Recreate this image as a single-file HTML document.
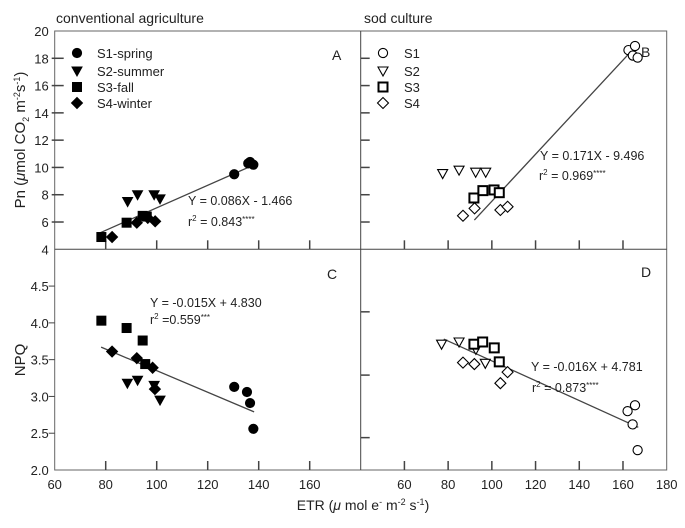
<!DOCTYPE html>
<html><head><meta charset="utf-8"><style>
body{margin:0;background:#fff}
svg{display:block;font-family:"Liberation Sans",sans-serif}
</style></head><body>
<svg id="c" width="685" height="528" xmlns="http://www.w3.org/2000/svg"></svg>
<script>
// ----- data -----
const xTicksLeft=[60,80,100,120,140,160];
const xTicksRight=[40,60,80,100,120,140,160,180];
const yTicksTop=[4,6,8,10,12,14,16,18,20];
const yTicksBottom=[2.0,2.5,3.0,3.5,4.0,4.5];
const seasons=['S1-spring','S2-summer','S3-fall','S4-winter'];
const sodSeasons=['S1','S2','S3','S4'];
// Panel A (conventional, Pn)
const aS1x=[130.4,135.9,136.6,137.9], aS1y=[9.5,10.3,10.4,10.2];
const aS2x=[88.6,92.5,99.0,101.3], aS2y=[7.5,8.0,8.0,7.7];
const aS3x=[78.3,88.2,94.5,96.1], aS3y=[4.9,5.95,6.45,6.4];
const aS4x=[82.5,92.2,96.5,99.4], aS4y=[4.9,5.95,6.3,6.05];
// Panel B (sod, Pn)
const bS1x=[162.5,165.5,164.5,166.7], bS1y=[18.6,18.9,18.2,18.05];
const bS2x=[77.5,85,92.6,97.2], bS2y=[9.55,9.8,9.65,9.65];
const bS3x=[91.8,95.9,101,103.4], bS3y=[7.76,8.3,8.35,8.15];
const bS4x=[86.8,92.1,103.9,107.2], bS4y=[6.46,7.0,6.88,7.12];
// Panel C (conventional, NPQ)
const cS1x=[130.4,135.4,136.6,137.9], cS1y=[3.13,3.06,2.91,2.56];
const cS2x=[88.5,92.5,99,101.3], cS2y=[3.18,3.22,3.15,2.95];
const cS3x=[78.3,88.2,94.5,95.5], cS3y=[4.03,3.93,3.76,3.44];
const cS4x=[82.5,92.2,98.4,99.3], cS4y=[3.61,3.52,3.39,3.10];
// Panel D (sod, NPQ)
const dS1x=[162.1,165.5,164.4,166.7], dS1y=[2.80,2.88,2.62,2.27];
const dS2x=[77,85,92.7,97], dS2y=[3.71,3.74,3.64,3.45];
const dS3x=[91.8,95.8,101.1,103.4], dS3y=[3.71,3.74,3.66,3.47];
const dS4x=[86.8,92,103.9,107.2], dS4y=[3.46,3.44,3.18,3.33];
// regression lines as drawn: x1, y1, x2, y2
const regA=[77.8,5.21,138.6,10.23];
const regB=[92,6.14,164.7,18.68];
const regC=[78.2,3.67,138.2,2.79];
const regD=[78,3.78,167,2.58];

// ----- geometry -----
const L0=54.7,L1=360.7,R1=666.7,T0=31,MID=249.3,B1=470;
const xL=v=>L0+(v-60)*(L1-L0)/120;
const xR=v=>L1+(v-40)*(R1-L1)/140;
const yT=v=>T0+(20-v)*(MID-T0)/16;
const yB=v=>B1-(v-2)*(B1-MID)/3;
const svg=document.getElementById('c');
const NS='http://www.w3.org/2000/svg';
function el(tag,attrs,parent){const e=document.createElementNS(NS,tag);for(const k in attrs)e.setAttribute(k,attrs[k]);(parent||svg).appendChild(e);return e;}
function txt(x,y,s,attrs,name){const t=el('text',Object.assign({x:x,y:y,'font-size':13,fill:'#222'},attrs||{}));t.innerHTML=s;


return t;}
function line(x1,y1,x2,y2,name,w){const l=el('line',{x1,y1,x2,y2,stroke:'#444','stroke-width':w||1});


return l;}

// frame
const fr=el('rect',{x:L0,y:T0,width:R1-L0,height:B1-T0,fill:'none',stroke:'#666','stroke-width':1});


line(L0,MID,R1,MID,'horizontal-divider');
line(L1,T0,L1,B1,'vertical-divider');

// ticks
yTicksTop.forEach(v=>{const y=yT(v);
 if(v>4&&v<20){line(L0-3,y,L0+9,y,'y-tick-a',1.5);line(L1,y,L1+9,y,'y-tick-b',1.5);}
 txt(L0-6,y+5,String(v),{'text-anchor':'end'},'y-tick-label-top');});
yTicksBottom.forEach(v=>{const y=yB(v);
 if(v>2)line(L0-6,y,L0,y,'y-tick-c');
 txt(L0-6,y+5,v.toFixed(1),{'text-anchor':'end'},'y-tick-label-bottom');});
[2.44,3.29,4.15].forEach(v=>{line(L1,yB(v),L1+9,yB(v),'y-tick-d',1.5);});
xTicksLeft.forEach(v=>{const x=xL(v);
 if(v>60){line(x,MID,x,MID-9,'x-tick-a',1.5);line(x,B1,x,B1-9,'x-tick-c',1.5);}
 txt(x,B1+19,String(v),{'text-anchor':'middle'},'x-tick-label-left');});
xTicksRight.forEach(v=>{const x=xR(v);
 if(v>40&&v<180){line(x,MID,x,MID-9,'x-tick-b',1.5);line(x,B1,x,B1-9,'x-tick-d',1.5);}
 if(v>40)txt(x,B1+19,String(v),{'text-anchor':'middle'},'x-tick-label-right');});

// markers
function marker(type,filled,cx,cy,name){
 const f=filled?'#000':'#fff',s='#000',sw=filled?1:1.1;let e;
 if(type===0)e=el('circle',{cx,cy,r:4.6,fill:f,stroke:s,'stroke-width':sw});
 else if(type===1)e=el('path',{d:`M${cx-5},${cy-4}L${cx+5},${cy-4}L${cx},${cy+5}Z`,fill:f,stroke:s,'stroke-width':sw});
 else if(type===2)e=el('rect',{x:cx-4.5,y:cy-4.5,width:9,height:9,fill:f,stroke:s,'stroke-width':filled?1:2});
 else e=el('path',{d:`M${cx},${cy-5.5}L${cx+5.5},${cy}L${cx},${cy+5.5}L${cx-5.5},${cy}Z`,fill:f,stroke:s,'stroke-width':sw});
 
 
}
function series(xs,ys,fx,fy,type,filled,name){xs.forEach((x,i)=>marker(type,filled,fx(x),fy(ys[i]),name));}
function reg(r,fx,fy,name){line(fx(r[0]),fy(r[1]),fx(r[2]),fy(r[3]),name,1.3);}

reg(regA,xL,yT,'regression-line-a');reg(regB,xR,yT,'regression-line-b');
reg(regC,xL,yB,'regression-line-c');reg(regD,xR,yB,'regression-line-d');
[[aS1x,aS1y],[aS2x,aS2y],[aS3x,aS3y],[aS4x,aS4y]].forEach((s,i)=>series(s[0],s[1],xL,yT,i,true,'point-a-s'+(i+1)));
[[bS1x,bS1y],[bS2x,bS2y],[bS3x,bS3y],[bS4x,bS4y]].forEach((s,i)=>series(s[0],s[1],xR,yT,i,false,'point-b-s'+(i+1)));
[[cS1x,cS1y],[cS2x,cS2y],[cS3x,cS3y],[cS4x,cS4y]].forEach((s,i)=>series(s[0],s[1],xL,yB,i,true,'point-c-s'+(i+1)));
[[dS1x,dS1y],[dS2x,dS2y],[dS3x,dS3y],[dS4x,dS4y]].forEach((s,i)=>series(s[0],s[1],xR,yB,i,false,'point-d-s'+(i+1)));

// legends
const legY=[53,71,87,103];
seasons.forEach((s,i)=>{marker(i,true,77,legY[i],'legend-marker-a');txt(97,legY[i]+5,s,{},'legend-entry-a');});
sodSeasons.forEach((s,i)=>{marker(i,false,383,legY[i],'legend-marker-b');txt(404,legY[i]+5,s,{},'legend-entry-b');});

// panel letters & equations
txt(332,60,'A',{'font-size':14},'panel-label-a');
txt(641,57,'B',{'font-size':14},'panel-label-b');
txt(327,279,'C',{'font-size':14},'panel-label-c');
txt(641,277,'D',{'font-size':14},'panel-label-d');
txt(188,205,'Y = 0.086X - 1.466',{'font-size':12.5},'equation-a');
txt(188,226,'r<tspan font-size="8" dy="-5">2</tspan><tspan dy="5"> = 0.843</tspan><tspan font-size="8" dy="-4">****</tspan>',{'font-size':12.5},'r2-a');
txt(540,160,'Y = 0.171X - 9.496',{'font-size':12.5},'equation-b');
txt(539,180,'r<tspan font-size="8" dy="-5">2</tspan><tspan dy="5"> = 0.969</tspan><tspan font-size="8" dy="-4">****</tspan>',{'font-size':12.5},'r2-b');
txt(150,307,'Y = -0.015X + 4.830',{'font-size':12.5},'equation-c');
txt(150,324,'r<tspan font-size="8" dy="-5">2</tspan><tspan dy="5"> =0.559</tspan><tspan font-size="8" dy="-4">***</tspan>',{'font-size':12.5},'r2-c');
txt(531,371,'Y = -0.016X + 4.781',{'font-size':12.5},'equation-d');
txt(532,392,'r<tspan font-size="8" dy="-5">2</tspan><tspan dy="5"> = 0.873</tspan><tspan font-size="8" dy="-4">****</tspan>',{'font-size':12.5},'r2-d');

// titles
txt(56,23,'conventional agriculture',{'font-size':14},'title-conventional');
txt(364,23,'sod culture',{'font-size':14},'title-sod');
txt(363,510,'ETR (<tspan font-style="italic">μ</tspan> mol e<tspan font-size="9" dy="-5">-</tspan><tspan dy="5"> m</tspan><tspan font-size="9" dy="-5">-2</tspan><tspan dy="5"> s</tspan><tspan font-size="9" dy="-5">-1</tspan><tspan dy="5">)</tspan>',{'font-size':14,'text-anchor':'middle'},'x-axis-title');
txt(0,0,'Pn (<tspan font-style="italic">μ</tspan>mol CO<tspan font-size="9" dy="4">2</tspan><tspan dy="-4"> m</tspan><tspan font-size="9" dy="-5">-2</tspan><tspan dy="5">s</tspan><tspan font-size="9" dy="-5">-1</tspan><tspan dy="5">)</tspan>',{'font-size':15,'text-anchor':'middle',transform:'translate(25,140) rotate(-90)'},'y-axis-title-pn');
txt(0,0,'NPQ',{'font-size':15,'text-anchor':'middle',transform:'translate(25,360) rotate(-90)'},'y-axis-title-npq');
</script>
</body></html>
